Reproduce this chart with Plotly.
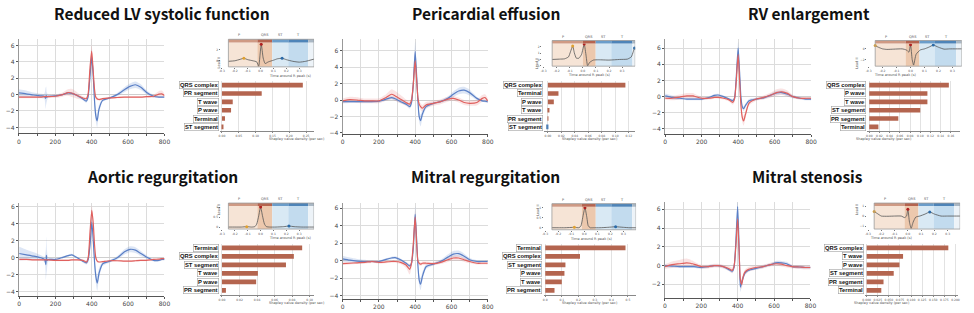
import plotly.graph_objects as go

W, H = 974, 313

TITLES = ["Reduced LV systolic function", "Pericardial effusion", "RV enlargement",
          "Aortic regurgitation", "Mitral regurgitation", "Mitral stenosis"]

# ---------------- main ECG traces (sample index 0..800) ----------------
ECG_X = [0, 40, 80, 120, 140, 147, 150, 153, 160, 200, 240, 270, 290, 320, 350, 370, 380, 390,
         400, 408, 415, 422, 430, 440, 460, 500, 540, 580, 610, 640, 670, 700, 740, 770, 785, 800]

P1_BLUE = [0.2, 0.1, -0.05, -0.15, -0.2, -0.45, -0.1, -0.3, -0.2, -0.15, 0.0, 0.2, 0.15, -0.1, -0.5, -0.8, -0.3, 2.0,
           4.6, 2.5, -0.5, -2.5, -3.2, -1.8, -0.7, -0.4, 0.0, 0.6, 1.0, 1.2, 0.9, 0.3, -0.2, -0.3, -0.3, -0.3]
P1_BLUE_SD = [0.45, 0.4, 0.3, 0.25, 0.3, 1.3, 1.1, 0.6, 0.2, 0.12, 0.1, 0.15, 0.15, 0.15, 0.15, 0.2, 0.4, 0.6,
              0.9, 0.7, 0.6, 0.7, 0.8, 0.5, 0.2, 0.15, 0.2, 0.3, 0.35, 0.4, 0.35, 0.25, 0.15, 0.1, 0.1, 0.1]
P1_RED = [-0.3, -0.3, -0.3, -0.3, -0.25, -0.25, -0.25, -0.25, -0.25, -0.2, 0.0, 0.25, 0.2, -0.1, -0.4, -0.5, 0.0, 3.0,
          5.3, 3.0, 0.8, -0.3, -0.5, -0.6, -0.5, -0.4, -0.35, -0.3, -0.3, -0.3, -0.3, -0.25, -0.2, 0.05, 0.1, -0.1]
P1_RED_SD = [0.15, 0.15, 0.15, 0.15, 0.15, 0.15, 0.15, 0.15, 0.15, 0.2, 0.25, 0.4, 0.5, 0.4, 0.2, 0.2, 0.4, 0.7,
             0.8, 0.6, 0.4, 0.3, 0.2, 0.15, 0.12, 0.1, 0.1, 0.1, 0.1, 0.1, 0.1, 0.12, 0.2, 0.4, 0.4, 0.2]

P2_BLUE = [-0.2, -0.2, -0.2, -0.2, -0.2, -0.2, -0.2, -0.2, -0.2, -0.15, 0.1, 0.3, 0.15, -0.2, -0.5, -0.8, -0.3, 2.0,
           5.9, 3.0, 0.0, -2.0, -2.5, -1.7, -0.8, -0.4, -0.2, 0.2, 0.7, 1.1, 1.2, 0.9, 0.2, -0.1, -0.15, -0.2]
P2_BLUE_SD = [0.2, 0.15, 0.15, 0.15, 0.15, 0.15, 0.15, 0.15, 0.15, 0.15, 0.15, 0.2, 0.2, 0.2, 0.2, 0.25, 0.4, 0.8,
              1.2, 0.8, 0.6, 0.6, 0.7, 0.5, 0.3, 0.15, 0.15, 0.25, 0.35, 0.4, 0.4, 0.35, 0.2, 0.15, 0.15, 0.15]
P2_RED = [-0.1, 0.05, 0.0, -0.1, -0.1, -0.1, -0.1, -0.1, -0.1, -0.1, 0.3, 0.7, 0.5, 0.1, -0.3, -0.5, 0.0, 2.0,
          4.8, 2.5, 0.3, -0.5, -0.8, -1.0, -0.6, -0.4, -0.2, 0.1, 0.2, 0.0, -0.3, -0.4, -0.3, 0.2, 0.3, -0.1]
P2_RED_SD = [0.3, 0.35, 0.35, 0.3, 0.3, 0.3, 0.3, 0.3, 0.3, 0.3, 0.4, 0.6, 0.6, 0.5, 0.35, 0.35, 0.5, 0.8,
             1.0, 0.8, 0.5, 0.4, 0.4, 0.4, 0.35, 0.3, 0.3, 0.3, 0.3, 0.3, 0.3, 0.3, 0.35, 0.4, 0.4, 0.3]

P3_BLUE = [0.1, -0.1, -0.2, -0.3, -0.3, -0.3, -0.3, -0.3, -0.3, -0.3, -0.1, 0.15, 0.2, 0.0, -0.3, -0.5, -0.2, 2.5,
           6.0, 3.0, 0.0, -1.2, -1.5, -1.1, -0.5, -0.3, -0.15, 0.2, 0.45, 0.5, 0.3, 0.0, -0.2, -0.3, -0.3, -0.3]
P3_BLUE_SD = [0.3, 0.25, 0.2, 0.15, 0.15, 0.15, 0.15, 0.15, 0.15, 0.15, 0.15, 0.15, 0.15, 0.15, 0.15, 0.2, 0.3, 0.6,
              0.8, 0.6, 0.4, 0.3, 0.3, 0.25, 0.2, 0.15, 0.15, 0.2, 0.25, 0.25, 0.25, 0.2, 0.15, 0.15, 0.15, 0.15]
P3_RED = [-0.2, -0.2, -0.05, 0.1, 0.1, 0.1, 0.1, 0.1, 0.05, -0.2, -0.2, -0.1, -0.1, -0.2, -0.4, -0.7, -0.3, 2.0,
          5.2, 2.0, -1.0, -2.5, -3.0, -2.2, -0.8, -0.3, -0.1, 0.2, 0.5, 0.6, 0.4, 0.0, -0.2, -0.2, -0.2, -0.2]
P3_RED_SD = [0.2, 0.25, 0.3, 0.35, 0.35, 0.35, 0.35, 0.35, 0.3, 0.2, 0.15, 0.15, 0.15, 0.15, 0.2, 0.3, 0.4, 0.6,
             0.8, 0.7, 0.6, 0.6, 0.6, 0.5, 0.3, 0.2, 0.25, 0.3, 0.4, 0.4, 0.35, 0.2, 0.15, 0.15, 0.15, 0.15]

P4_BLUE = [0.5, 0.35, 0.2, 0.0, -0.2, -0.8, 0.3, -0.3, -0.2, -0.2, 0.05, 0.25, 0.35, 0.0, -0.4, -0.6, -0.2, 1.5,
           4.2, 2.0, -0.5, -2.2, -3.0, -1.8, -0.7, -0.4, 0.0, 0.7, 1.0, 0.9, 0.5, 0.1, -0.3, -0.3, -0.2, -0.2]
P4_BLUE_SD = [0.8, 0.6, 0.45, 0.3, 0.3, 1.8, 2.2, 1.2, 0.25, 0.15, 0.12, 0.12, 0.12, 0.12, 0.15, 0.2, 0.4, 0.7,
              0.9, 0.8, 0.7, 0.8, 0.9, 0.6, 0.25, 0.15, 0.2, 0.3, 0.35, 0.35, 0.3, 0.2, 0.15, 0.12, 0.12, 0.12]
P4_RED = [-0.2, -0.2, -0.25, -0.25, -0.25, -0.25, -0.25, -0.25, -0.25, -0.3, -0.3, -0.3, -0.25, -0.25, -0.3, -0.5, 0.0, 3.0,
          5.6, 4.0, 1.5, 0.0, -0.4, -0.5, -0.45, -0.35, -0.35, -0.4, -0.4, -0.35, -0.3, -0.3, -0.2, -0.15, -0.1, -0.1]
P4_RED_SD = [0.12, 0.12, 0.1, 0.1, 0.1, 0.1, 0.1, 0.1, 0.1, 0.1, 0.1, 0.1, 0.1, 0.1, 0.12, 0.2, 0.4, 0.5,
             0.6, 0.5, 0.4, 0.2, 0.15, 0.1, 0.1, 0.1, 0.1, 0.1, 0.1, 0.1, 0.1, 0.1, 0.1, 0.1, 0.1, 0.1]

P5_BLUE = [0.2, 0.05, -0.05, -0.1, -0.1, -0.1, -0.1, -0.1, -0.1, -0.1, 0.15, 0.3, 0.35, 0.1, -0.3, -0.6, -0.3, 1.5,
           5.3, 2.5, -0.5, -2.2, -2.7, -1.8, -0.7, -0.4, -0.1, 0.4, 0.75, 0.8, 0.5, 0.1, -0.1, -0.1, -0.1, -0.1]
P5_BLUE_SD = [0.35, 0.3, 0.25, 0.2, 0.15, 0.15, 0.15, 0.15, 0.15, 0.12, 0.12, 0.15, 0.15, 0.15, 0.15, 0.2, 0.3, 0.6,
              0.9, 0.7, 0.6, 0.6, 0.7, 0.5, 0.25, 0.15, 0.2, 0.3, 0.35, 0.35, 0.3, 0.2, 0.15, 0.12, 0.12, 0.12]
P5_RED = [-0.35, -0.3, -0.25, -0.2, -0.15, -0.15, -0.15, -0.15, -0.1, -0.2, -0.15, -0.1, -0.1, -0.2, -0.5, -1.0, -0.3, 2.0,
          5.0, 2.0, 0.0, -0.3, -0.4, -0.3, -0.3, -0.35, -0.2, 0.1, 0.3, 0.3, 0.1, -0.1, -0.3, -0.3, -0.3, -0.3]
P5_RED_SD = [0.15, 0.15, 0.15, 0.15, 0.15, 0.15, 0.15, 0.15, 0.15, 0.15, 0.15, 0.15, 0.15, 0.2, 0.35, 0.6, 0.5, 0.6,
             0.7, 0.5, 0.3, 0.25, 0.2, 0.2, 0.2, 0.2, 0.2, 0.25, 0.3, 0.3, 0.25, 0.2, 0.15, 0.15, 0.15, 0.15]

P6_BLUE = [0.0, -0.05, -0.1, -0.1, -0.1, -0.1, -0.1, -0.1, -0.1, -0.2, -0.1, 0.0, 0.0, -0.1, -0.4, -0.6, -0.2, 2.5,
           6.3, 2.0, -2.3, -1.8, -1.3, -0.8, -0.5, -0.3, -0.1, 0.1, 0.3, 0.3, 0.2, -0.1, -0.15, -0.2, -0.2, -0.2]
P6_BLUE_SD = [0.15, 0.15, 0.15, 0.15, 0.15, 0.15, 0.15, 0.15, 0.15, 0.15, 0.15, 0.15, 0.15, 0.15, 0.15, 0.2, 0.3, 0.6,
              0.9, 0.6, 0.5, 0.4, 0.3, 0.2, 0.15, 0.15, 0.15, 0.15, 0.2, 0.2, 0.2, 0.15, 0.15, 0.15, 0.15, 0.15]
P6_RED = [-0.1, 0.1, 0.2, 0.3, 0.25, 0.2, 0.2, 0.2, 0.15, -0.1, -0.1, 0.0, 0.0, -0.1, -0.3, -0.5, -0.1, 2.0,
          5.0, 1.5, -1.5, -2.0, -1.2, -0.7, -0.4, -0.2, -0.1, 0.1, 0.2, 0.15, 0.0, -0.1, -0.15, -0.2, -0.2, -0.2]
P6_RED_SD = [0.25, 0.35, 0.4, 0.45, 0.4, 0.35, 0.35, 0.35, 0.3, 0.2, 0.2, 0.2, 0.2, 0.2, 0.25, 0.3, 0.4, 0.7,
             0.9, 0.7, 0.6, 0.5, 0.4, 0.3, 0.25, 0.2, 0.2, 0.2, 0.25, 0.25, 0.2, 0.2, 0.2, 0.2, 0.2, 0.2]

# ---------------- inset ECG (time around R peak, s) ----------------
INSET1_X = [-0.25, -0.2, -0.16, -0.13, -0.1, -0.06, -0.03, -0.015, 0.005, 0.02, 0.035, 0.06, 0.1, 0.13, 0.167, 0.2, 0.25, 0.3, 0.35, 0.415]
INSET1_Y = [-0.1, 0.0, 0.25, 0.45, 0.2, 0.0, -0.2, -1.0, 3.0, 0.5, -0.5, -0.2, 0.1, 0.35, 0.45, 0.2, -0.1, -0.25, -0.1, 0.3]
INSET2_X = [-0.235, -0.18, -0.14, -0.11, -0.095, -0.078, -0.065, -0.05, -0.03, -0.01, 0.01, 0.025, 0.036, 0.05, 0.08, 0.12, 0.2, 0.28, 0.34, 0.37, 0.385, 0.395, 0.4]
INSET2_Y = [0.0, 0.05, 0.1, 0.4, 1.2, 2.1, 1.0, 0.2, 0.2, 0.8, 2.4, 0.5, -1.0, -0.5, -0.1, -0.05, -0.1, 0.0, 0.05, 0.4, 1.2, 1.8, 1.5]
INSET3_X = [-0.253, -0.23, -0.2, -0.17, -0.12, -0.06, -0.03, -0.012, 0.0, 0.012, 0.022, 0.04, 0.07, 0.1, 0.13, 0.163, 0.2, 0.24, 0.28, 0.32, 0.367]
INSET3_Y = [0.6, 0.3, 0.0, -0.1, -0.05, 0.0, -0.2, -0.6, 0.76, -2.0, -3.0, -1.0, -0.2, 0.0, 0.3, 0.7, 0.3, -0.05, 0.0, 0.0, 0.0]
INSET4_X = [-0.25, -0.2, -0.15, -0.108, -0.07, -0.045, -0.03, -0.015, 0.0, 0.015, 0.03, 0.045, 0.07, 0.12, 0.18, 0.22, 0.26, 0.32, 0.38, 0.415]
INSET4_Y = [0.0, 0.0, 0.0, 0.02, 0.0, 0.02, 0.15, 0.55, 1.0, 0.55, 0.15, 0.02, 0.0, 0.0, 0.02, 0.05, 0.02, 0.0, 0.0, 0.0]
INSET5_X = [-0.248, -0.2, -0.15, -0.076, -0.04, -0.025, -0.012, 0.005, 0.02, 0.03, 0.045, 0.07, 0.12, 0.18, 0.24, 0.3, 0.35, 0.397]
INSET5_Y = [0.0, 0.0, 0.0, 0.02, 0.0, 0.1, 0.5, 1.0, 0.5, 0.1, 0.0, 0.0, 0.0, 0.02, 0.05, 0.02, 0.0, 0.0]
INSET6_X = [-0.254, -0.23, -0.2, -0.15, -0.1, -0.05, -0.025, -0.01, 0.0, 0.012, 0.025, 0.04, 0.06, 0.09, 0.13, 0.165, 0.2, 0.25, 0.3, 0.35, 0.394]
INSET6_Y = [0.45, 0.25, 0.0, -0.02, 0.0, 0.0, -0.15, 0.0, 0.67, -0.6, -1.23, -0.6, -0.1, 0.0, 0.2, 0.41, 0.2, 0.0, 0.0, 0.0, 0.0]
# fiducial points [P, R, T] as indices into the inset arrays
INSET1_MARKS = [3, 8, 14]
INSET2_MARKS = [5, 10, 21]
INSET3_MARKS = [0, 8, 15]
INSET4_MARKS = [3, 8, 15]
INSET5_MARKS = [3, 7, 14]
INSET6_MARKS = [0, 8, 15]
# segment boundaries (s): [start, QRS start, ST start, T start, T end, end]
SEG1 = [-0.25, -0.025, 0.09, 0.215, 0.37, 0.415]
SEG2 = [-0.235, 0.0, 0.098, 0.217, 0.379, 0.40]
SEG3 = [-0.253, -0.035, 0.064, 0.175, 0.326, 0.367]
SEG4 = [-0.25, -0.025, 0.09, 0.215, 0.37, 0.415]
SEG5 = [-0.248, -0.018, 0.088, 0.207, 0.367, 0.397]
SEG6 = [-0.254, -0.025, 0.08, 0.194, 0.349, 0.394]
SEG_LABELS = ["P", "QRS", "ST", "T"]
INSET_XTICKS = [-0.3, -0.2, -0.1, 0.0, 0.1, 0.2, 0.3]

# ---------------- Shapley bars ----------------
BAR_CATS_1 = ["QRS complex", "PR segment", "T wave", "P wave", "Terminal", "ST segment"]
BAR_VALS_1 = [0.240, 0.118, 0.032, 0.027, 0.009, 0.002]
BAR_CATS_2 = ["QRS complex", "Terminal", "P wave", "T wave", "PR segment", "ST segment"]
BAR_VALS_2 = [0.115, 0.0157, 0.0088, 0.002, 0.0008, -0.0025]
BAR_CATS_3 = ["QRS complex", "P wave", "T wave", "ST segment", "PR segment", "Terminal"]
BAR_VALS_3 = [0.156, 0.114, 0.114, 0.100, 0.057, 0.018]
BAR_CATS_4 = ["Terminal", "QRS complex", "ST segment", "T wave", "P wave", "PR segment"]
BAR_VALS_4 = [0.0915, 0.082, 0.073, 0.041, 0.039, 0.0045]
BAR_CATS_5 = ["Terminal", "QRS complex", "ST segment", "P wave", "T wave", "PR segment"]
BAR_VALS_5 = [0.485, 0.21, 0.122, 0.116, 0.100, 0.056]
BAR_CATS_6 = ["QRS complex", "T wave", "P wave", "ST segment", "PR segment", "Terminal"]
BAR_VALS_6 = [0.184, 0.082, 0.074, 0.061, 0.038, 0.033]

# ---------------- layout geometry (pixels) ----------------
PANELS = [
    dict(title_xy=(160.5, 11), ecg=(16, 163, 37, 133, [-4.72, 6.84]),
         inset=(260, 130, 41, 65.7, [-1.1, 3.3]), bar=(219.5, 313.7, 80, 130.7, [-0.0044, 0.2726], 0.05, ".2f")),
    dict(title_xy=(487.5, 11), ecg=(342.7, 489.3, 37.7, 133.3, [-4.08, 7.39]),
         inset=(585.3, 132, 42, 65, [-1.05, 2.5]), bar=(546.5, 638, 80, 130.7, [-0.0051, 0.1294], 0.02, ".2f")),
    dict(title_xy=(813.3, 11), ecg=(668.3, 815.7, 37.3, 133.3, [-4.57, 7.15]),
         inset=(916, 141, 42, 65, [-3.2, 1.0]), bar=(872.5, 966, 80, 130.7, [-0.0035, 0.178], 0.02, ".2f")),
    dict(title_xy=(160.5, 176), ecg=(16.3, 163, 203.3, 297.7, [-4.5, 6.5]),
         inset=(260, 130, 206.7, 230, [-0.1, 1.05]), bar=(219.5, 314, 244.7, 296.5, [-0.0017, 0.1051], 0.02, ".2f")),
    dict(title_xy=(486.7, 176), ecg=(342.7, 489.3, 203.3, 300.7, [-4.39, 6.65]),
         inset=(586.7, 131.7, 207.3, 230.7, [-0.1, 1.05]), bar=(546, 639, 244.7, 296.5, [-0.0078, 0.549], 0.1, ".1f")),
    dict(title_xy=(812, 176), ecg=(668, 815, 203, 300, [-3.47, 6.74]),
         inset=(913.3, 133.9, 206.7, 230, [-1.3, 1.0]), bar=(870.5, 964, 244.7, 296.5, [-0.0027, 0.206], 0.025, ".3f")),
]

ECG_DATA = [(P1_BLUE, P1_BLUE_SD, P1_RED, P1_RED_SD), (P2_BLUE, P2_BLUE_SD, P2_RED, P2_RED_SD),
            (P3_BLUE, P3_BLUE_SD, P3_RED, P3_RED_SD), (P4_BLUE, P4_BLUE_SD, P4_RED, P4_RED_SD),
            (P5_BLUE, P5_BLUE_SD, P5_RED, P5_RED_SD), (P6_BLUE, P6_BLUE_SD, P6_RED, P6_RED_SD)]
INSET_DATA = [(INSET1_X, INSET1_Y, INSET1_MARKS, SEG1), (INSET2_X, INSET2_Y, INSET2_MARKS, SEG2),
              (INSET3_X, INSET3_Y, INSET3_MARKS, SEG3), (INSET4_X, INSET4_Y, INSET4_MARKS, SEG4),
              (INSET5_X, INSET5_Y, INSET5_MARKS, SEG5), (INSET6_X, INSET6_Y, INSET6_MARKS, SEG6)]
BAR_DATA = [(BAR_CATS_1, BAR_VALS_1), (BAR_CATS_2, BAR_VALS_2), (BAR_CATS_3, BAR_VALS_3),
            (BAR_CATS_4, BAR_VALS_4), (BAR_CATS_5, BAR_VALS_5), (BAR_CATS_6, BAR_VALS_6)]

BLUE = "#5a7fc6"
RED = "#e0605e"
BLUE_FILL = "rgba(100,140,210,0.22)"
RED_FILL = "rgba(232,120,120,0.2)"
BAR_COL = "#b4654f"
BAR_NEG = "#4f7fb5"
TXT = "#444444"
LABEL_FONT = "DejaVu Sans"
CAT_FONT = "Liberation Sans"
TITLE_FONT = "Noto Sans CJK SC"


def px(x):
    return x / W


def py(y):
    return 1 - y / H


def ax(k):
    return ("x" if k == 1 else f"x{k}"), ("y" if k == 1 else f"y{k}")


def axkey(k):
    return ("xaxis" if k == 1 else f"xaxis{k}"), ("yaxis" if k == 1 else f"yaxis{k}")


fig = go.Figure()
layout = {}
shapes = []
annotations = []

for i, pan in enumerate(PANELS):
    ke, ki, kb = 3 * i + 1, 3 * i + 2, 3 * i + 3

    # title
    tx, ty = pan["title_xy"]
    annotations.append(dict(text=f"<b>{TITLES[i]}</b>", x=px(tx), y=py(ty), xref="paper", yref="paper",
                            showarrow=False, xanchor="center", yanchor="middle",
                            font=dict(family=TITLE_FONT, size=15.5, color="#111")))

    # ---- ECG panel ----
    l, r, t, b, yr = pan["ecg"]
    blue, blue_sd, red, red_sd = ECG_DATA[i]
    xa, ya = ax(ke)
    for mean, sd, lc, fc in ((blue, blue_sd, BLUE, BLUE_FILL), (red, red_sd, RED, RED_FILL)):
        up = [m + s for m, s in zip(mean, sd)]
        lo = [m - s for m, s in zip(mean, sd)]
        fig.add_trace(go.Scatter(x=ECG_X + ECG_X[::-1], y=up + lo[::-1], fill="toself", fillcolor=fc,
                                 line=dict(width=0, shape="spline", smoothing=0.6), mode="lines",
                                 hoverinfo="skip", showlegend=False, xaxis=xa, yaxis=ya))
    for mean, lc in ((blue, BLUE), (red, RED)):
        fig.add_trace(go.Scatter(x=ECG_X, y=mean, mode="lines", line=dict(color=lc, width=1.2, shape="spline", smoothing=0.6),
                                 showlegend=False, xaxis=xa, yaxis=ya))
    kx, ky = axkey(ke)
    layout[kx] = dict(domain=[px(l), px(r)], range=[0, 800], anchor=ya,
                      tickvals=[0, 100, 200, 300, 400, 500, 600, 700, 800],
                      ticktext=["0", "", "200", "", "400", "", "600", "", "800"],
                      showgrid=True, gridcolor="#dcdcdc", gridwidth=1, zeroline=False, showline=True,
                      linecolor="#555", linewidth=1, ticks="outside", ticklen=2, tickcolor="#555",
                      tickfont=dict(family=LABEL_FONT, size=6, color=TXT))
    layout[ky] = dict(domain=[py(b), py(t)], range=yr, anchor=xa, dtick=2, showgrid=True, gridcolor="#dcdcdc",
                      zeroline=True, zerolinecolor="#cfcfcf", zerolinewidth=1, showline=True, linecolor="#999",
                      linewidth=1, ticks="outside", ticklen=2, tickcolor="#555",
                      tickfont=dict(family=LABEL_FONT, size=6, color=TXT))

    # ---- inset ----
    x0px, scale, it, ib, iyr = pan["inset"]
    ix, iy, marks, seg = INSET_DATA[i]
    il = x0px - 0.31 * scale
    ir = x0px + seg[5] * scale
    xa, ya = ax(ki)
    kx, ky = axkey(ki)
    layout[kx] = dict(domain=[px(il), px(ir)], range=[-0.31, seg[5]], anchor=ya, tickvals=INSET_XTICKS,
                      ticktext=[f"{v:.1f}" for v in INSET_XTICKS], showgrid=False, zeroline=False,
                      showline=False, ticks="outside", ticklen=1, tickcolor="#777", tickangle=0,
                      tickfont=dict(family=LABEL_FONT, size=3, color="#555"))
    layout[ky] = dict(domain=[py(ib), py(it)], range=iyr, anchor=xa, showgrid=False, zeroline=False,
                      showline=False, ticks="outside", ticklen=1, tickcolor="#777", nticks=4,
                      tickfont=dict(family=LABEL_FONT, size=3, color="#555"))
    yd = f"{ya} domain"
    fills = ["#f6e4d6", "#ecc8ad", "#d9e9f4", "#c2dbee", "#edf3f8"]
    for j in range(5):
        shapes.append(dict(type="rect", xref=xa, yref=yd, x0=seg[j], x1=seg[j + 1], y0=0, y1=1,
                           fillcolor=fills[j], line=dict(width=0), layer="below"))
    strip_cols = ["#cf9a84", "#b5644f", "#6b9dca", "#4e84b8", "#a9b7c4"]
    for j in range(5):
        shapes.append(dict(type="rect", xref=xa, yref=yd, x0=seg[j], x1=seg[j + 1], y0=1.0, y1=1.13,
                           fillcolor=strip_cols[j], line=dict(width=0), layer="above"))
    shapes.append(dict(type="rect", xref=xa, yref=yd, x0=seg[0], x1=seg[5], y0=0, y1=1.13,
                       line=dict(color="#9a9a9a", width=0.8), fillcolor="rgba(0,0,0,0)", layer="above"))
    lab_x = [(seg[0] + seg[1] - 0.065) / 2, (seg[1] + seg[2]) / 2, (seg[2] + seg[3]) / 2, (seg[3] + seg[4]) / 2]
    for lx, lt in zip(lab_x, SEG_LABELS):
        annotations.append(dict(text=lt, x=lx, y=1.3, xref=xa, yref=yd, showarrow=False, yanchor="middle",
                                font=dict(family=LABEL_FONT, size=3.5, color="#555")))
    fig.add_trace(go.Scatter(x=ix, y=iy, mode="lines", line=dict(color="#555", width=0.8, shape="spline", smoothing=0.5),
                             showlegend=False, xaxis=xa, yaxis=ya))
    fig.add_trace(go.Scatter(x=[ix[m] for m in marks], y=[iy[m] for m in marks], mode="markers",
                             marker=dict(color=["#e0a030", "#b02020", "#2a6aa8"], size=3),
                             showlegend=False, xaxis=xa, yaxis=ya))
    annotations.append(dict(text="Time around R peak (s)", x=px(x0px + 0.05 * scale), y=py(ib + 9),
                            xref="paper", yref="paper", showarrow=False, yanchor="middle",
                            font=dict(family=LABEL_FONT, size=3.5, color="#555")))
    annotations.append(dict(text="Lead II", x=px(il - 6), y=py((it + ib) / 2), xref="paper", yref="paper",
                            showarrow=False, textangle=-90, font=dict(family=LABEL_FONT, size=3.5, color="#555")))

    # ---- bars ----
    bl, br, bt, bb, brg, dt, fmt = pan["bar"]
    cats, vals = BAR_DATA[i]
    xa, ya = ax(kb)
    kx, ky = axkey(kb)
    fig.add_trace(go.Bar(x=vals, y=cats, orientation="h", width=0.55,
                         marker=dict(color=[BAR_COL if v >= 0 else BAR_NEG for v in vals], line=dict(width=0)),
                         showlegend=False, xaxis=xa, yaxis=ya))
    layout[kx] = dict(domain=[px(bl), px(br)], range=brg, anchor=ya, dtick=dt, tick0=0, tickformat=fmt,
                      showgrid=True, gridcolor="#e2e2e2", gridwidth=1, zeroline=False, showline=True,
                      linecolor="#888", linewidth=0.8, ticks="outside", ticklen=1.5, tickcolor="#888",
                      tickangle=0, tickfont=dict(family=LABEL_FONT, size=3, color="#555"))
    layout[ky] = dict(domain=[py(bb), py(bt)], range=[5.5, -0.5], anchor=xa, showticklabels=False,
                      showgrid=False, zeroline=False, showline=False, type="category")
    for c in cats:
        annotations.append(dict(text=f"<b>{c}</b>", x=px(bl - 1.5), y=c, xref="paper", yref=ya, showarrow=False,
                                xanchor="right", yanchor="middle", bgcolor="white", bordercolor="#a0a0a0",
                                borderwidth=0.6, borderpad=0.4,
                                font=dict(family=CAT_FONT, size=5.8, color="#111")))
    annotations.append(dict(text="Shapley value density (per sec)", x=px((bl + br) / 2), y=py(bb + 8.5),
                            xref="paper", yref="paper", showarrow=False, yanchor="middle",
                            font=dict(family=LABEL_FONT, size=3.5, color="#555")))

fig.update_layout(width=W, height=H, margin=dict(l=0, r=0, t=0, b=0), paper_bgcolor="white",
                  plot_bgcolor="white", showlegend=False, shapes=shapes, annotations=annotations,
                  bargap=0.4, **layout)
fig.write_html("out.html")
